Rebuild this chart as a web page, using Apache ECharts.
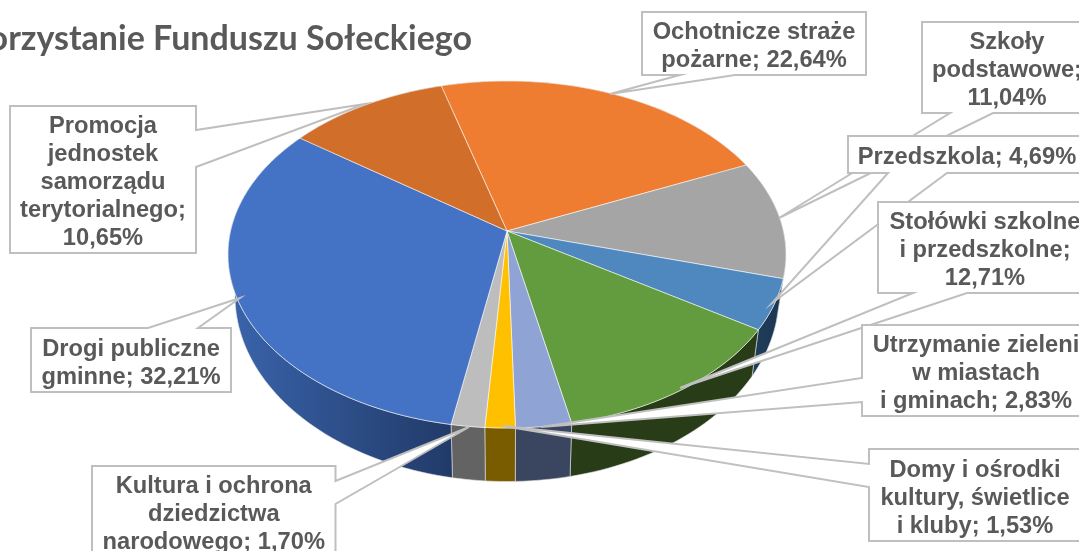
<!DOCTYPE html>
<html><head><meta charset="utf-8">
<style>html,body{margin:0;padding:0;background:#fff;overflow:hidden}#c{width:1079px;height:551px}</style>
<script src="https://cdn.jsdelivr.net/npm/echarts@6/dist/echarts.min.js"></script>
</head><body><div id="c"></div>
<script>
const categories = ['Ochotnicze straże\npożarne','Szkoły\npodstawowe','Przedszkola','Stołówki szkolne\ni przedszkolne','Utrzymanie zieleni\nw miastach\ni gminach','Domy i ośrodki\nkultury, świetlice\ni kluby','Kultura i ochrona\ndziedzictwa\nnarodowego','Drogi publiczne\ngminne','Promocja\njednostek\nsamorządu\nterytorialnego'];
const values = [22.64,11.04,4.69,12.71,2.83,1.53,1.70,32.21,10.65];
const valueSeparators = [' ','\n',' ','\n',' ',' ',' ',' ','\n'];
const titleText = 'Wykorzystanie Funduszu Sołeckiego';

const topColors = ['#EF7D31','#A5A5A5','#4E88BF','#639B3F','#8FA4D5','#FFC000','#BDBDBD','#4472C4','#D16E2A'];
const wallColors = ['#7a3f18','#555555',['#1f3d5c','#1c3650'],'#273C17','#3A4560','#7A5C00','#636363',['#3A64AC','#213A68'],'#70401a'];

const topDisc = {cx:507, cy:231, R:276.4, S:170.3, k:0.1355};
const baseDisc = {cx:507, cy:270.3, R:269.5, S:182.6, k:0.1355};
const startAngle = -15.6;

const callouts = [
 {box:[642,12,224,63], side:'bottom', a:680, b:735, tip:[610,94]},
 {box:[922,22,170,91], side:'bottom', a:950, b:993, tip:[779,218]},
 {box:[848,136,238,37], side:'bottom', a:888, b:947, tip:[772,303]},
 {box:[878,202,214,91], side:'bottom', a:913, b:967, tip:[680,388]},
 {box:[862,325,228,91], side:'left', a:378, b:402, tip:[541,427]},
 {box:[869,449,212,92], side:'left', a:464, b:487, tip:[503,426]},
 {box:[92,466,243.5,90], side:'right', a:481, b:504, tip:[469,427]},
 {box:[31,328,200,64], side:'top', a:148, b:198, tip:[240,298]},
 {box:[10,106,186,147], side:'right', a:130, b:167, tip:[365,104]}
];

const total = values.reduce((a,b)=>a+b,0);
const cumulative = []; values.reduce((s,v,i)=>{cumulative[i]=s;return s+v;},0);
const rim = (d,deg)=>{const t=deg*Math.PI/180,x=Math.sin(t),y=-Math.cos(t),w=1-d.k*y;return [d.cx+d.R*x/w,d.cy+d.S*y/w];};
const span = i=>{const a=startAngle+cumulative[i]/total*360;return [a,a+values[i]/total*360];};
const arc = (d,a,b)=>{const n=Math.max(2,Math.ceil((b-a)/1.5)),p=[];for(let j=0;j<=n;j++)p.push(rim(d,a+(b-a)*j/n));return p;};
const fmt = v=>v.toFixed(2).replace('.',',')+'%';
const sourceData = values.map((v,i)=>[i,v]);

function wallFill(i,pts){
  const c=wallColors[i];
  if(!Array.isArray(c))return c;
  const xs=pts.map(p=>p[0]);
  return {type:'linear',global:true,x:Math.min(...xs),y:0,x2:Math.max(...xs),y2:0,colorStops:[{offset:0,color:c[0]},{offset:1,color:c[1]}]};
}
function calloutPoints(c){
  const [x,y,w,h]=c.box,r=x+w,b=y+h;
  if(c.side==='bottom')return [[x,y],[r,y],[r,b],[c.b,b],c.tip,[c.a,b],[x,b]];
  if(c.side==='top')return [[x,y],[c.a,y],c.tip,[c.b,y],[r,y],[r,b],[x,b]];
  if(c.side==='right')return [[x,y],[r,y],[r,c.a],c.tip,[r,c.b],[r,b],[x,b]];
  return [[x,y],[r,y],[r,b],[x,b],[x,c.b],c.tip,[x,c.a]];
}

const chart = echarts.init(document.getElementById('c'),null,{renderer:'canvas',width:1079,height:551});
chart.setOption({
  animation:false,
  backgroundColor:'#fff',
  title:{text:titleText,left:467,top:17,textAlign:'right',textStyle:{fontFamily:'Lato',fontWeight:'bold',fontSize:34,color:'#595959'}},
  series:[
    {type:'custom',coordinateSystem:'none',silent:true,z:1,data:sourceData,renderItem(p,api){
      const i=api.value(0),[a,b]=span(i);
      const pts=arc(topDisc,a,b).concat(arc(baseDisc,a,b).reverse());
      return {type:'polygon',shape:{points:pts},style:{fill:wallFill(i,pts),stroke:'rgba(225,225,225,0.75)',lineWidth:0.8}};
    }},
    {type:'custom',coordinateSystem:'none',silent:true,z:2,data:sourceData,renderItem(p,api){
      const i=api.value(0),[a,b]=span(i);
      const pts=[[topDisc.cx,topDisc.cy]].concat(arc(topDisc,a,b));
      return {type:'polygon',shape:{points:pts},style:{fill:topColors[i],stroke:'rgba(255,255,255,0.7)',lineWidth:0.8}};
    }},
    {type:'custom',coordinateSystem:'none',silent:true,z:3,data:sourceData,renderItem(p,api){
      const i=api.value(0),c=callouts[i],[x,y,w,h]=c.box;
      return {type:'group',children:[
        {type:'polygon',shape:{points:calloutPoints(c)},style:{fill:'#fff',stroke:'#BFBFBF',lineWidth:2,lineJoin:'miter'}},
        {type:'text',style:{text:categories[i]+';'+valueSeparators[i]+fmt(api.value(1)),x:x+w/2,y:y+h/2+3,align:'center',verticalAlign:'middle',fontFamily:'Liberation Sans',fontWeight:'bold',fontSize:23.7,lineHeight:28,fill:'#595959'}}
      ]};
    }}
  ]
});
</script></body></html>
